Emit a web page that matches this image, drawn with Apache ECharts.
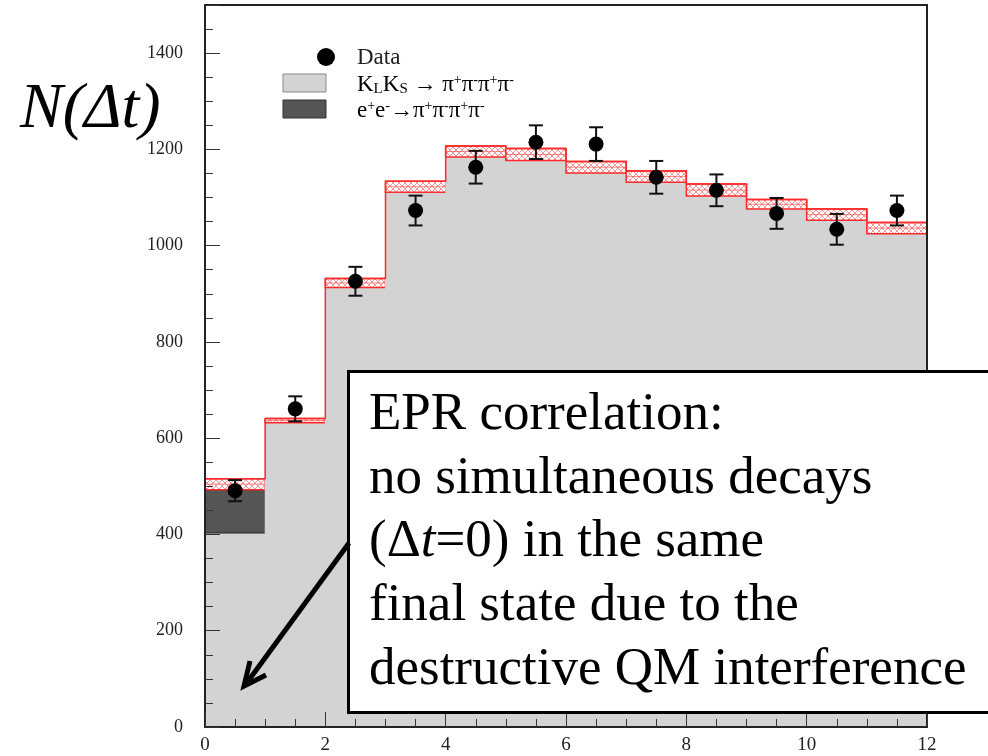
<!DOCTYPE html>
<html>
<head>
<meta charset="utf-8">
<style>html,body{margin:0;padding:0;background:#fff}#c{width:988px;height:756px}</style>
<script src="https://cdn.jsdelivr.net/npm/echarts@6/dist/echarts.min.js"></script>
</head>
<body>
<div id="c"></div>
<script>
// ---- data ----
var binStart = [0, 1, 2, 3, 4, 5, 6, 7, 8, 9, 10, 11];
var klks     = [403, 632, 913, 1111, 1184, 1177, 1151, 1132, 1103, 1076, 1053, 1025];
var eeBkg    = [90, 0, 0, 0, 0, 0, 0, 0, 0, 0, 0, 0];
var mcHigh   = [516, 641, 932, 1134, 1207, 1202, 1175, 1155, 1128, 1096, 1076, 1048];
var dataX    = [0.5, 1.5, 2.5, 3.5, 4.5, 5.5, 6.5, 7.5, 8.5, 9.5, 10.5, 11.5];
var dataY    = [491, 661, 926, 1073, 1163, 1215, 1211, 1142, 1115, 1067, 1034, 1073];
var dataErr  = [22, 26, 30, 31, 34, 35, 35, 34, 33, 32, 32, 31];
var xTicks   = [0, 2, 4, 6, 8, 10, 12];
var yTicks   = [0, 200, 400, 600, 800, 1000, 1200, 1400];
var noteLines = [
  '{n|EPR correlation:}',
  '{n|no simultaneous decays}',
  '{n|(\u0394}{i|t}{n|=0) in the same}',
  '{n|final state due to the}',
  '{n|destructive QM interference}'
];

// hatch pattern for the MC uncertainty band
var pc = document.createElement('canvas');
pc.width = 6; pc.height = 6;
var pctx = pc.getContext('2d');
pctx.fillStyle = '#fff'; pctx.fillRect(0, 0, 6, 6);
pctx.strokeStyle = 'rgba(235,70,70,0.55)'; pctx.lineWidth = 1;
pctx.beginPath(); pctx.moveTo(0, 0); pctx.lineTo(6, 6); pctx.moveTo(6, 0); pctx.lineTo(0, 6); pctx.stroke();

var histData = binStart.map(function (b, i) {
  return [b, klks[i], klks[i] + eeBkg[i], mcHigh[i]];
});
var stepData = [[0, 0]];
binStart.forEach(function (b, i) { stepData.push([b, mcHigh[i]]); stepData.push([b + 1, mcHigh[i]]); });
var errData = dataX.map(function (x, i) { return [x, dataY[i], dataErr[i]]; });
var ptData = dataX.map(function (x, i) { return [x, dataY[i]]; });

var serif = '"Liberation Serif", "Times New Roman", serif';
var chart = echarts.init(document.getElementById('c'), null, {renderer: 'canvas'});

var legendRich = {
  m: {fontSize: 23, fontFamily: serif, color: '#222', lineHeight: 24, verticalAlign: 'middle'},
  sp: {fontSize: 14, fontFamily: serif, color: '#222', lineHeight: 14, verticalAlign: 'top'},
  sb: {fontSize: 15, fontFamily: serif, color: '#222', lineHeight: 15, verticalAlign: 'bottom'}
};

var graphics = [
  // legend
  {type: 'circle', shape: {cx: 326, cy: 57, r: 9}, style: {fill: '#000'}, z: 100},
  {type: 'text', x: 357, y: 58, style: {text: 'Data', font: '23px ' + serif, fill: '#222', verticalAlign: 'middle'}, z: 100},
  {type: 'rect', shape: {x: 283, y: 74, width: 43, height: 18}, style: {fill: '#d3d3d3', stroke: '#888', lineWidth: 1}, z: 100},
  {type: 'text', x: 357, y: 85, style: {
    text: '{m|K}{sb|L}{m|K}{sb|S}{m| \u2192 \u03c0}{sp|+}{m|\u03c0}{sp|-}{m|\u03c0}{sp|+}{m|\u03c0}{sp|-}',
    rich: legendRich, verticalAlign: 'middle'}, z: 100},
  {type: 'rect', shape: {x: 283, y: 100, width: 43, height: 18}, style: {fill: '#555', stroke: '#333', lineWidth: 1}, z: 100},
  {type: 'text', x: 357, y: 111, style: {
    text: '{m|e}{sp|+}{m|e}{sp|-}{m|\u2192\u03c0}{sp|+}{m|\u03c0}{sp|-}{m|\u03c0}{sp|+}{m|\u03c0}{sp|-}',
    rich: legendRich, verticalAlign: 'middle'}, z: 100},
  // y title
  {type: 'text', x: 20, y: 110, style: {text: 'N(\u0394t)', font: 'italic 64px ' + serif, fill: '#000', verticalAlign: 'middle'}, z: 100},
  // annotation box
  {type: 'rect', shape: {x: 348.5, y: 371.5, width: 660, height: 341}, style: {fill: '#fff', stroke: '#000', lineWidth: 3}, z: 100},
  // arrow
  {type: 'line', shape: {x1: 349, y1: 543, x2: 246, y2: 684}, style: {stroke: '#000', lineWidth: 5}, z: 101},
  {type: 'polyline', shape: {points: [[250, 661], [244, 686], [266, 675]]}, style: {stroke: '#000', lineWidth: 5, fill: null}, z: 101}
];
noteLines.forEach(function (t, k) {
  graphics.push({type: 'text', x: 369, y: 433 - 18 + k * 63.75, style: {
    text: t, verticalAlign: 'middle',
    rich: {
      n: {fontSize: 53, fontFamily: serif, color: '#000'},
      i: {fontSize: 53, fontFamily: serif, fontStyle: 'italic', color: '#000'}
    }}, z: 102});
});

var option = {
  animation: false,
  backgroundColor: '#fff',
  grid: {left: 205, top: 5, right: 61, bottom: 29, show: true, borderColor: '#222', borderWidth: 2, backgroundColor: 'transparent', z: 10},
  xAxis: {
    type: 'value', min: 0, max: 12, interval: 2, z: 10,
    axisLine: {show: true, onZero: false, lineStyle: {color: '#222', width: 2}},
    axisTick: {show: true, inside: true, length: 15, lineStyle: {color: '#333', width: 1}},
    minorTick: {show: true, splitNumber: 4, length: 8, lineStyle: {color: '#333', width: 1}},
    splitLine: {show: false},
    axisLabel: {fontFamily: serif, fontSize: 19, color: '#222', margin: 9,
      formatter: function (v) { return xTicks.indexOf(v) >= 0 ? String(v) : ''; }}
  },
  yAxis: {
    type: 'value', min: 0, max: 1500, interval: 200, z: 10,
    axisLine: {show: true, onZero: false, lineStyle: {color: '#222', width: 2}},
    axisTick: {show: true, inside: true, length: 15, lineStyle: {color: '#333', width: 1}},
    minorTick: {show: true, splitNumber: 4, length: 8, lineStyle: {color: '#333', width: 1}},
    splitLine: {show: false},
    axisLabel: {fontFamily: serif, fontSize: 18, color: '#222', margin: 22, showMaxLabel: false,
      formatter: function (v) { return yTicks.indexOf(v) >= 0 ? String(v) : ''; }}
  },
  series: [
    {
      type: 'custom', name: 'hist', z: 2,
      data: histData,
      encode: {x: 0, y: 3},
      renderItem: function (params, api) {
        var b = api.value(0);
        var p0 = api.coord([b, 0]);
        var p1 = api.coord([b + 1, 0]);
        var yK = api.coord([b, api.value(1)])[1];
        var yE = api.coord([b, api.value(2)])[1];
        var yH = api.coord([b, api.value(3)])[1];
        var w = p1[0] - p0[0];
        var ch = [
          {type: 'rect', shape: {x: p0[0] - 0.5, y: yK, width: w + 1, height: p0[1] - yK}, style: {fill: '#d3d3d3'}}
        ];
        if (yE < yK - 0.5) {
          ch.push({type: 'rect', shape: {x: p0[0], y: yE, width: w, height: yK - yE}, style: {fill: '#555', stroke: '#222', lineWidth: 1}});
        }
        ch.push({type: 'rect', shape: {x: p0[0], y: yH, width: w, height: yE - yH},
          style: {fill: {image: pc, repeat: 'repeat'}, stroke: '#ff2a2a', lineWidth: 1.5}});
        ch.push({type: 'line', shape: {x1: p0[0], y1: (yH + yE) / 2, x2: p1[0], y2: (yH + yE) / 2},
          style: {stroke: 'rgba(255,60,60,0.6)', lineWidth: 1}});
        return {type: 'group', children: ch};
      }
    },
    {
      type: 'line', name: 'mcstep', data: stepData, symbol: 'none', z: 3,
      lineStyle: {color: '#ff2a2a', width: 1.5}
    },
    {
      type: 'custom', name: 'err', z: 4,
      data: errData,
      encode: {x: 0, y: 1},
      renderItem: function (params, api) {
        var x = api.value(0), y = api.value(1), e = api.value(2);
        var top = api.coord([x, y + e]);
        var bot = api.coord([x, y - e]);
        var c = 7;
        var s = {stroke: '#111', lineWidth: 2};
        return {type: 'group', children: [
          {type: 'line', shape: {x1: top[0], y1: top[1], x2: bot[0], y2: bot[1]}, style: s},
          {type: 'line', shape: {x1: top[0] - c, y1: top[1], x2: top[0] + c, y2: top[1]}, style: s},
          {type: 'line', shape: {x1: bot[0] - c, y1: bot[1], x2: bot[0] + c, y2: bot[1]}, style: s}
        ]};
      }
    },
    {
      type: 'scatter', name: 'Data', data: ptData, symbol: 'circle', symbolSize: 15, z: 5,
      itemStyle: {color: '#000', opacity: 1}
    }
  ],
  graphic: graphics
};
chart.setOption(option);
</script>
</body>
</html>
